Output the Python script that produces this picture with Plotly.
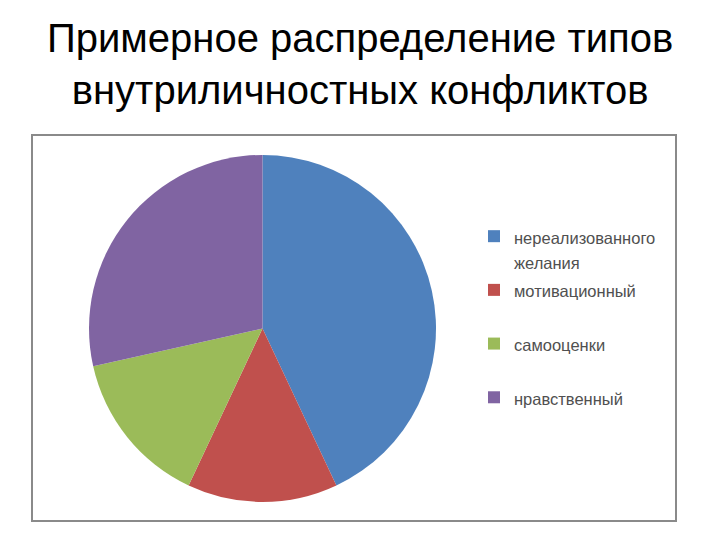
import plotly.graph_objects as go

title_lines = ["Примерное распределение типов", "внутриличностных конфликтов"]
label_lines = [["нереализованного", "желания"], ["мотивационный"], ["самооценки"], ["нравственный"]]
values = [43, 14, 14.5, 28.5]
colors = ["#4F81BD", "#C0504D", "#9BBB59", "#8064A2"]

def fmt(lines):
    parts = ["<span style='font-size:16.5px'>%s</span>" % t for t in lines]
    while len(parts) < 2:
        parts.append(" ")
    return "<br>".join(parts)

categories = [fmt(l) for l in label_lines]

fig = go.Figure(go.Pie(
    labels=categories,
    values=values,
    sort=False,
    direction="clockwise",
    rotation=0,
    textinfo="none",
    hoverinfo="percent",
    marker=dict(colors=colors, line=dict(width=0)),
    domain=dict(x=[0.1236, 0.6056], y=[0.0704, 0.713]),
))

fig.update_layout(
    width=720, height=540,
    margin=dict(l=0, r=0, t=0, b=0),
    paper_bgcolor="white",
    plot_bgcolor="white",
    annotations=[dict(
        text="<br>".join(title_lines),
        xref="paper", yref="paper",
        x=0.5, xanchor="center",
        y=1 - 14/540, yanchor="top",
        showarrow=False,
        align="center",
        font=dict(family="Liberation Sans, Arial", size=40, color="#000000"),
    )],
    legend=dict(
        x=474/720, xanchor="left",
        y=(540 - 217)/540, yanchor="top",
        valign="top",
        font=dict(family="Liberation Sans, Arial", size=19.5, color="#505050"),
        itemwidth=30,
        bgcolor="rgba(0,0,0,0)",
    ),
    shapes=[dict(
        type="rect", xref="paper", yref="paper",
        x0=32/720, x1=676/720, y0=(540-521)/540, y1=(540-135)/540,
        line=dict(color="#8a8a8a", width=2),
        fillcolor="rgba(0,0,0,0)",
        layer="below",
    )],
)

fig.write_html("out.html", config={"displayModeBar": False},
               post_script="document.body.style.margin='0';")
